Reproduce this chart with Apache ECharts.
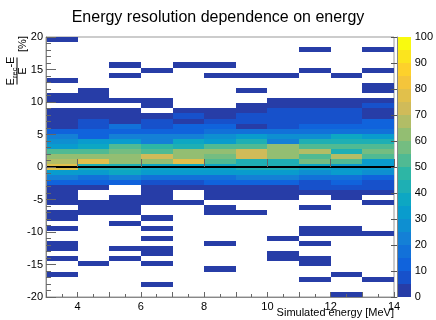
<!DOCTYPE html>
<html><head><meta charset="utf-8">
<script src="https://cdn.jsdelivr.net/npm/echarts@6/dist/echarts.min.js"></script>
<style>html,body{margin:0;padding:0;background:#fff}#c{width:436px;height:320px}</style>
</head><body><div id="c"></div><script>
const chartTitle = 'Energy resolution dependence on energy';
const xTitle = 'Simulated energy [MeV]';
const energyEdges = [3, 4, 5, 6, 7, 8, 9, 10, 11, 12, 13, 14];
const resMin = -20, resMax = 20, resBins = 51;
const xTickLabels = [4, 6, 8, 10, 12, 14];
const zLevelEdges = [0, 5, 10, 15, 20, 25, 30, 35, 40, 45, 50, 55, 60, 65, 70, 75, 80, 85, 90, 95, 100];
const zeroLine = [[3, 0], [14, 0]];
// counts per energy column, 51 resolution bins listed from top (+20 %) to bottom (-20 %)
const e3to4 = [2,0,0,0,0,0,0,0,2,0, 0,2,3,0,2,3,3,4,12,22, 27,32,52,62,67,77,32,22,12,4, 3,2,2,0,2,1,0,2,0,0, 2,1,0,1,0,0,1,0,0,0, 0];
const e4to5 = [0,0,0,0,0,0,0,0,0,0, 2,3,3,0,3,4,7,8,12,13, 32,37,52,62,77,42,32,17,12,3, 0,0,2,2,1,0,0,0,0,0, 0,0,0,0,1,0,0,0,0,0, 0];
const e5to6 = [0,0,0,0,0,1,0,1,0,0, 0,0,2,0,3,3,4,17,12,22, 32,52,57,62,62,42,37,22,12,0, 0,2,3,2,2,0,1,0,0,0, 0,1,0,1,0,0,0,0,0,0, 0];
const e6to7 = [0,0,0,0,0,0,1,0,0,0, 0,0,2,2,0,3,7,8,12,22, 22,47,52,72,62,37,32,17,7,3, 2,3,2,0,0,1,0,1,0,1, 0,1,1,0,1,0,0,0,1,0, 0];
const e7to8 = [0,0,0,0,0,1,0,0,0,0, 0,0,0,0,2,7,4,10,12,22, 37,42,62,62,77,37,32,17,7,3, 0,0,2,0,0,0,0,0,0,0, 0,0,0,0,0,0,0,0,0,0, 0];
const e8to9 = [0,0,0,0,0,1,0,1,0,0, 0,0,0,0,2,4,7,12,15,27, 32,52,62,57,52,37,32,17,10,3, 2,2,0,2,1,0,0,0,0,0, 1,0,0,0,0,1,0,0,0,0, 0];
const e9to10 = [0,0,0,0,0,0,0,1,0,0, 1,0,0,2,3,7,8,4,17,32, 42,52,72,72,42,42,30,22,10,3, 3,2,0,0,1,0,0,0,0,0, 0,0,0,0,0,0,0,0,0,0, 0];
const e10to11 = [0,0,0,0,0,0,0,1,0,0, 0,0,2,3,7,7,8,8,17,27, 22,62,62,62,42,42,32,22,10,4, 3,2,0,0,0,0,0,0,0,1, 0,0,1,1,0,0,0,0,0,0, 0];
const e11to12 = [0,0,1,0,0,0,1,0,0,0, 0,0,2,3,7,7,8,12,17,27, 42,52,67,52,57,37,27,15,8,6, 3,0,0,1,0,0,0,1,2,0, 1,0,0,1,1,0,0,1,0,0, 0];
const e12to13 = [0,0,0,0,0,0,0,1,0,0, 0,0,2,3,7,7,8,12,17,37, 42,52,42,67,52,32,32,17,12,6, 3,2,0,0,0,0,0,1,1,0, 0,0,0,0,0,0,1,0,0,0, 1];
const e13to14 = [0,0,1,0,0,0,1,0,0,1, 2,0,2,6,3,4,12,10,17,32, 42,52,57,52,32,32,27,14,7,6, 3,0,2,0,0,0,0,0,1,0, 0,0,0,0,0,0,0,1,0,0, 0];
const columns = [e3to4, e4to5, e5to6, e6to7, e7to8, e8to9, e9to10, e10to11, e11to12, e12to13, e13to14];

// ROOT kBird palette, 20 contour levels (style)
const levelColors = ['#273da7','#1751cb','#1063dc','#1271d9','#1480d6','#0e8fd1','#099ccd','#0da7c3','#1eafb4','#2db6a5',
  '#50ba93','#74bd81','#93be72','#b2bd66','#d0bb59','#e1c04b','#f4c53b','#fdd12b','#fbe41e','#f9fa0f'];
const FONT = '"Liberation Sans", Arial, Helvetica, sans-serif';

const binH = (resMax - resMin) / resBins;
const levelW = zLevelEdges[1] - zLevelEdges[0];
const cells = [];
columns.forEach((col, c) => {
  col.forEach((v, j) => {
    if (v > 0) cells.push([energyEdges[c], energyEdges[c + 1], resMax - (j + 1) * binH, resMax - j * binH, v]);
  });
});
const barCells = [];
for (let i = 0; i < zLevelEdges.length - 1; i++) barCells.push([0, 1, zLevelEdges[i], zLevelEdges[i + 1], i]);

function rectOf(api) {
  const p0 = api.coord([api.value(0), api.value(3)]);
  const p1 = api.coord([api.value(1), api.value(2)]);
  const x0 = Math.round(p0[0]), y0 = Math.round(p0[1]), x1 = Math.round(p1[0]), y1 = Math.round(p1[1]);
  return { x: x0, y: y0, width: x1 - x0, height: y1 - y0 };
}

const ctx = document.createElement('canvas').getContext('2d');
function tw(t, size) { ctx.font = size + 'px "Liberation Sans"'; return ctx.measureText(t).width; }
const wE = tw('E', 11), wRec = tw('rec', 7.5), wME = tw('-E', 11);
const numW = wE + wRec + wME;
const nx0 = -numW / 2;
const tStyle = (txt, size, align, va) => ({ text: txt, fontSize: size, fontFamily: FONT, fill: '#000', align: align, verticalAlign: va });

const chart = echarts.init(document.getElementById('c'), null, { renderer: 'canvas', width: 436, height: 320 });
chart.setOption({
  animation: false,
  backgroundColor: '#fff',
  title: { text: chartTitle, left: 'center', top: 5, textStyle: { fontFamily: FONT, fontSize: 16, fontWeight: 'normal', color: '#000' } },
  grid: [
    { left: 46, top: 37, width: 348, height: 260, show: true, borderColor: '#999', borderWidth: 1, backgroundColor: 'transparent' },
    { left: 397, top: 37, width: 14, height: 260, show: false }
  ],
  xAxis: [
    { gridIndex: 0, type: 'value', position: 'bottom', min: 3, max: 14, interval: 1, z: 10,
      axisLine: { show: true, onZero: false, lineStyle: { color: '#888' } },
      axisTick: { show: true, inside: true, length: 5, lineStyle: { color: '#666' } },
      minorTick: { show: true, splitNumber: 2, length: 3, lineStyle: { color: '#666' } },
      splitLine: { show: false },
      axisLabel: { customValues: xTickLabels, margin: 4, fontSize: 11, color: '#000', fontFamily: FONT } },
    { gridIndex: 0, type: 'value', position: 'bottom', min: 3, max: 14, z: 10,
      axisLine: { show: false }, splitLine: { show: false }, axisLabel: { show: false },
      axisTick: { show: true, inside: true, length: 8, customValues: xTickLabels, lineStyle: { color: '#666' } } },
    { gridIndex: 1, type: 'value', min: 0, max: 1, show: false }
  ],
  yAxis: [
    { gridIndex: 0, type: 'value', position: 'left', min: resMin, max: resMax, interval: 5, z: 10,
      axisLine: { show: true, onZero: false, lineStyle: { color: '#888' } },
      axisTick: { show: true, inside: true, length: 10, lineStyle: { color: '#666' } },
      minorTick: { show: true, splitNumber: 5, length: 5, lineStyle: { color: '#666' } },
      splitLine: { show: false },
      axisLabel: { margin: 3, fontSize: 11, color: '#000', fontFamily: FONT } },
    { gridIndex: 1, type: 'value', position: 'right', min: 0, max: 100, interval: 10, z: 10,
      axisLine: { show: true, lineStyle: { color: '#888' } },
      axisTick: { show: true, inside: true, length: 6, lineStyle: { color: '#555' } },
      splitLine: { show: false },
      axisLabel: { margin: 4, fontSize: 11, color: '#000', fontFamily: FONT } }
  ],
  series: [
    { type: 'custom', xAxisIndex: 0, yAxisIndex: 0, data: cells, silent: true, z: 2,
      encode: { x: [0, 1], y: [2, 3] },
      renderItem: (params, api) => ({ type: 'rect', shape: rectOf(api),
        style: { fill: levelColors[Math.min(levelColors.length - 1, Math.floor(api.value(4) / levelW))] } }) },
    { type: 'line', xAxisIndex: 0, yAxisIndex: 0, data: zeroLine, symbol: 'none', silent: true, z: 5,
      lineStyle: { color: '#000', width: 2 } },
    { type: 'custom', xAxisIndex: 2, yAxisIndex: 1, data: barCells, silent: true, z: 2,
      encode: { x: [0, 1], y: [2, 3] },
      renderItem: (params, api) => ({ type: 'rect', shape: rectOf(api), style: { fill: levelColors[api.value(4)] } }) }
  ],
  graphic: [
    { type: 'text', x: 394, y: 313, style: tStyle(xTitle, 11, 'right', 'middle') },
    { type: 'group', x: 17, y: 71, rotation: Math.PI / 2, children: [
      { type: 'line', shape: { x1: -13.5, y1: 0, x2: 13.5, y2: 0 }, style: { stroke: '#000', lineWidth: 1 } },
      { type: 'text', x: nx0, y: -1, style: tStyle('E', 11, 'left', 'bottom') },
      { type: 'text', x: nx0 + wE, y: 2, style: tStyle('rec', 7.5, 'left', 'bottom') },
      { type: 'text', x: nx0 + wE + wRec, y: -1, style: tStyle('-E', 11, 'left', 'bottom') },
      { type: 'text', x: 0, y: 0, style: tStyle('E', 11, 'center', 'top') },
      { type: 'text', x: 27, y: 0, style: tStyle('[%]', 11, 'center', 'top') }
    ] }
  ]
});
</script></body></html>
